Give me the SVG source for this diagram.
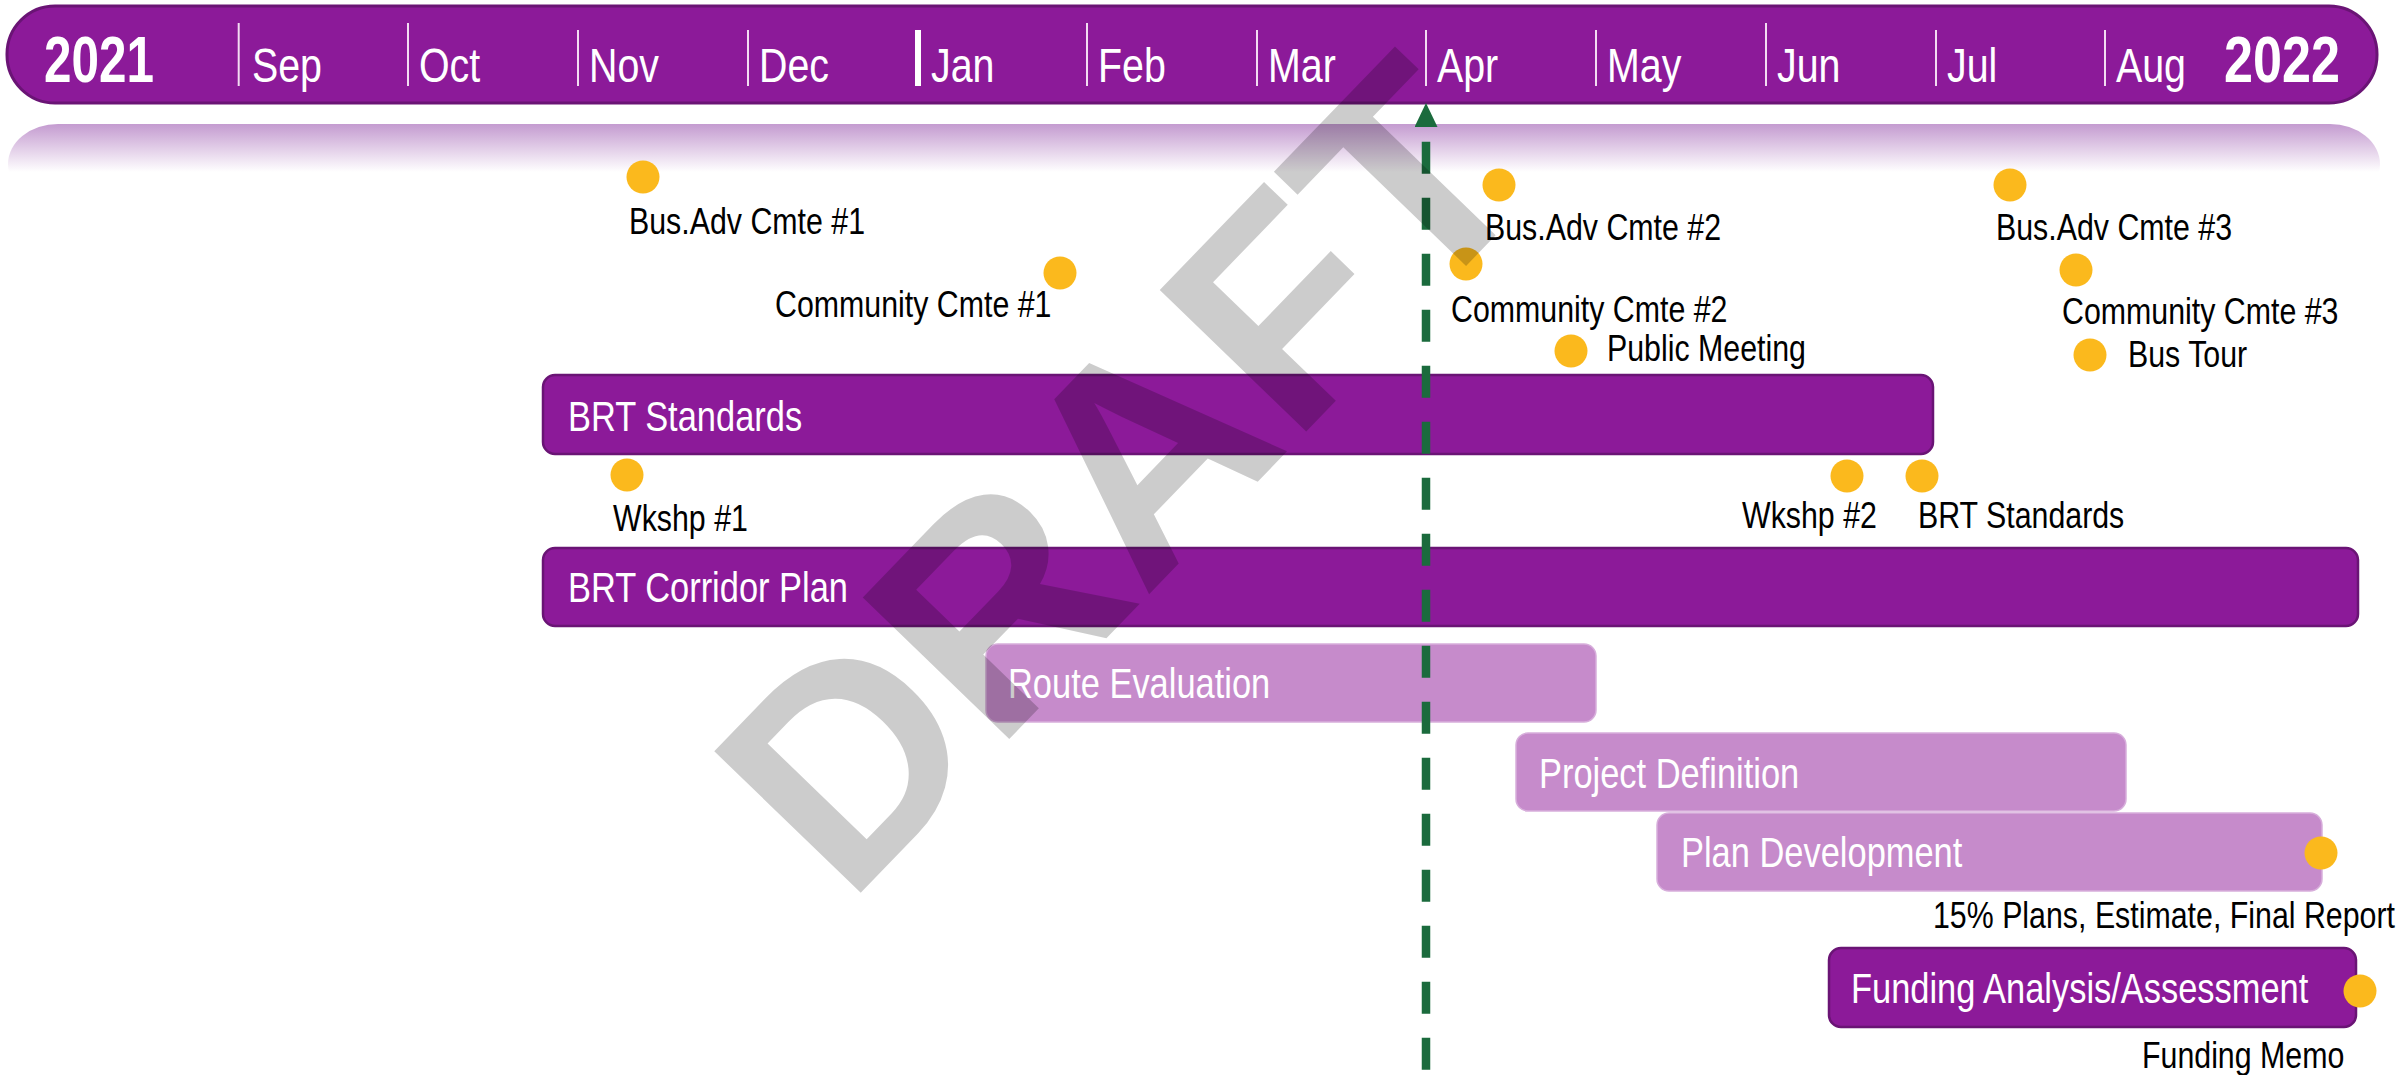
<svg xmlns="http://www.w3.org/2000/svg" width="2402" height="1075" viewBox="0 0 2402 1075">
<defs>
<linearGradient id="band" x1="0" y1="0" x2="0" y2="1" gradientUnits="objectBoundingBox">
<stop offset="0" stop-color="#c49bd0"/>
<stop offset="0.6" stop-color="#ffffff"/>
<stop offset="1" stop-color="#ffffff"/>
</linearGradient>
<marker id="arr" viewBox="0 0 24 23" refX="0" refY="11.5" markerWidth="24" markerHeight="23" markerUnits="userSpaceOnUse" orient="auto">
<path d="M0,0 L24,11.5 L0,23 z" fill="#1b6b3d"/>
</marker>
</defs>
<style>
.n{font-family:'Liberation Sans',Arial,sans-serif;transform-box:fill-box;transform-origin:0 0;transform:scaleX(0.82)}
.lbl{font-size:37px;fill:#000}
.bt{font-size:42px;fill:#fff}
.mo{font-size:48px;fill:#fff}
.yr{font-family:'Liberation Sans',Arial,sans-serif;font-size:64px;font-weight:bold;fill:#fff}
.sep{stroke:#f2dcf2;stroke-width:2}
.dot{fill:#fbb91d}
.dark{fill:#8c1a99;stroke:#6a1475;stroke-width:2.5}
.light{fill:#c68bcb;stroke:#d7aedb;stroke-width:1.5}
</style>
<rect width="2402" height="1075" fill="#fff"/>
<g id="header">
<rect x="7" y="6" width="2370" height="97" rx="48" ry="48" fill="#8c1a99" stroke="#6a1475" stroke-width="3"/>
<text class="yr" x="44" y="82" textLength="110" lengthAdjust="spacingAndGlyphs">2021</text>
<text class="yr" x="2224" y="82" textLength="116" lengthAdjust="spacingAndGlyphs">2022</text>
<line class="sep" x1="238.7" y1="23" x2="238.7" y2="86"/>
<line class="sep" x1="408" y1="23" x2="408" y2="86"/>
<line class="sep" x1="578" y1="30" x2="578" y2="86"/>
<line class="sep" x1="748" y1="30" x2="748" y2="86"/>
<line x1="918" y1="30" x2="918" y2="86" stroke="#fff" stroke-width="6"/>
<line class="sep" x1="1087" y1="23" x2="1087" y2="86"/>
<line class="sep" x1="1257" y1="30" x2="1257" y2="86"/>
<line class="sep" x1="1426" y1="30" x2="1426" y2="86"/>
<line class="sep" x1="1596" y1="30" x2="1596" y2="86"/>
<line class="sep" x1="1766" y1="23" x2="1766" y2="86"/>
<line class="sep" x1="1936" y1="30" x2="1936" y2="86"/>
<line class="sep" x1="2105" y1="30" x2="2105" y2="86"/>
<text class="n mo" x="252" y="82">Sep</text>
<text class="n mo" x="419" y="82">Oct</text>
<text class="n mo" x="589" y="82">Nov</text>
<text class="n mo" x="759" y="82">Dec</text>
<text class="n mo" x="931" y="82">Jan</text>
<text class="n mo" x="1098" y="82">Feb</text>
<text class="n mo" x="1268" y="82">Mar</text>
<text class="n mo" x="1437" y="82">Apr</text>
<text class="n mo" x="1607" y="82">May</text>
<text class="n mo" x="1777" y="82">Jun</text>
<text class="n mo" x="1947" y="82">Jul</text>
<text class="n mo" x="2116" y="82">Aug</text>
</g>
<rect id="band-bg" x="8" y="124" width="2372" height="80" rx="50" ry="50" fill="url(#band)"/>
<g id="bar-brt-standards">
<rect class="dark" x="543" y="375" width="1390" height="79" rx="12"/>
<text class="n bt" x="568" y="431">BRT Standards</text>
</g>
<g id="bar-brt-corridor">
<rect class="dark" x="543" y="548" width="1815" height="78" rx="12"/>
<text class="n bt" x="568" y="602">BRT Corridor Plan</text>
</g>
<g id="bar-route-eval">
<rect class="light" x="986" y="644" width="610" height="78" rx="12"/>
<text class="n bt" x="1008" y="698">Route Evaluation</text>
</g>
<g id="bar-project-def">
<rect class="light" x="1516" y="733" width="610" height="78" rx="12"/>
<text class="n bt" x="1539" y="788">Project Definition</text>
</g>
<g id="bar-plan-dev">
<rect class="light" x="1657" y="813" width="665" height="78" rx="12"/>
<text class="n bt" x="1681" y="867">Plan Development</text>
</g>
<g id="bar-funding">
<rect class="dark" x="1829" y="948" width="527" height="79" rx="12"/>
<text class="n bt" x="1851" y="1003">Funding Analysis/Assessment</text>
</g>
<g id="ms-busadv1"><circle class="dot" cx="643" cy="177" r="16.5"/><text class="n lbl" x="629" y="234">Bus.Adv Cmte #1</text></g>
<g id="ms-comm1"><circle class="dot" cx="1060" cy="273" r="16.5"/><text class="n lbl" x="775" y="317">Community Cmte #1</text></g>
<g id="ms-busadv2"><circle class="dot" cx="1499" cy="185" r="16.5"/><text class="n lbl" x="1485" y="240">Bus.Adv Cmte #2</text></g>
<g id="ms-comm2"><circle class="dot" cx="1466" cy="264" r="16.5"/><text class="n lbl" x="1451" y="322">Community Cmte #2</text></g>
<g id="ms-public"><circle class="dot" cx="1571" cy="351" r="16.5"/><text class="n lbl" x="1607" y="361">Public Meeting</text></g>
<g id="ms-busadv3"><circle class="dot" cx="2010" cy="185" r="16.5"/><text class="n lbl" x="1996" y="240">Bus.Adv Cmte #3</text></g>
<g id="ms-comm3"><circle class="dot" cx="2076" cy="270" r="16.5"/><text class="n lbl" x="2062" y="324">Community Cmte #3</text></g>
<g id="ms-bustour"><circle class="dot" cx="2090" cy="355" r="16.5"/><text class="n lbl" x="2128" y="367">Bus Tour</text></g>
<g id="ms-wkshp1"><circle class="dot" cx="627" cy="475" r="16.5"/><text class="n lbl" x="613" y="531">Wkshp #1</text></g>
<g id="ms-wkshp2"><circle class="dot" cx="1847" cy="476" r="16.5"/><text class="n lbl" x="1742" y="528">Wkshp #2</text></g>
<g id="ms-brtstd"><circle class="dot" cx="1922" cy="476" r="16.5"/><text class="n lbl" x="1918" y="528">BRT Standards</text></g>
<g id="ms-plans"><circle class="dot" cx="2321" cy="853" r="16.5"/><text class="n lbl" x="1933" y="928">15% Plans, Estimate, Final Report</text></g>
<g id="ms-memo"><circle class="dot" cx="2360" cy="991" r="16.5"/><text class="n lbl" x="2142" y="1068">Funding Memo</text></g>
<g id="connectors">
<line x1="1426" y1="1075" x2="1426" y2="127" stroke="#1b6b3d" stroke-width="8.5" stroke-dasharray="32 24" stroke-dashoffset="50.7" marker-end="url(#arr)"/>
</g>
<text id="watermark" transform="translate(847,907) rotate(-46)" font-family="'Liberation Sans',Arial,sans-serif" font-weight="bold" font-size="296" fill="#000" fill-opacity="0.2">DRAFT</text>
</svg>
